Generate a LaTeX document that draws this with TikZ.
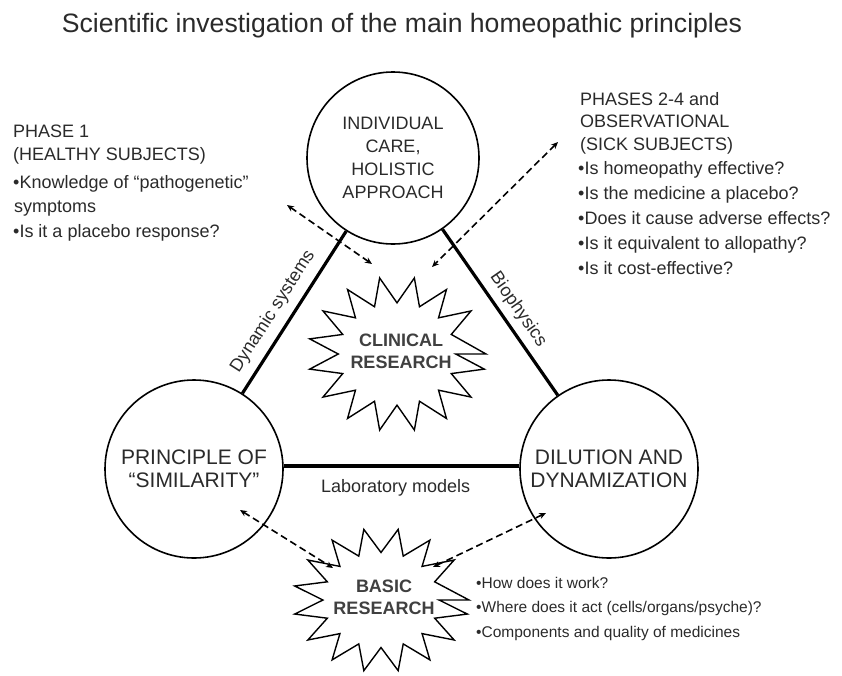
\documentclass[tikz,border=0pt]{standalone}
\usepackage{fontspec}
\setmainfont{Liberation Sans}
\usetikzlibrary{arrows.meta}
\definecolor{txt}{HTML}{2A2A2A}
\definecolor{boldtxt}{HTML}{404040}
\begin{document}
\begin{tikzpicture}[x=1pt,y=-1pt,
  bigcirc/.style={circle, draw=black, line width=1.6pt, inner sep=0pt, align=center, text=txt, font=\fontsize{18}{23}\selectfont},
  edge/.style={line width=3.2pt},
  lbl/.style={font=\fontsize{18}{20}\selectfont, text=txt},
  dasharrow/.style={line width=1.6pt, dash pattern=on 7pt off 4pt, {Stealth[length=7pt,width=6pt]}-{Stealth[length=7pt,width=6pt]}},
  burstline/.style={line width=1.4pt, fill=white},
  bursttext/.style={font=\bfseries\fontsize{18}{22}\selectfont, text=boldtxt, align=center},
  block/.style={anchor=north west, inner sep=0pt, align=left, text=txt}
]
\useasboundingbox (0,0) rectangle (842,675);

% title
\node[anchor=base, inner sep=0pt, text=txt, font=\fontsize{26.6}{30}\selectfont] (title) at (402,32) {Scientific investigation of the main homeopathic principles};

% circles
\node[bigcirc, minimum size=172pt] (top) at (393,158) {INDIVIDUAL\\CARE,\\HOLISTIC\\APPROACH};
\node[bigcirc, minimum size=178pt, font=\fontsize{21}{23}\selectfont] (left) at (194,469) {PRINCIPLE OF\\\char"201C SIMILARITY\char"201D};
\node[bigcirc, minimum size=178pt, font=\fontsize{21}{23}\selectfont] (right) at (609,469) {DILUTION AND\\DYNAMIZATION};

% triangle edges
\draw[edge] (top) -- node[sloped, above=5pt, pos=0.557, lbl] (dyn) {Dynamic systems} (left);
\draw[edge] (top) -- node[sloped, above=3pt, pos=0.54, lbl] (bio) {Biophysics} (right);
\draw[edge] ([yshift=3pt]left.east) -- node[below=9pt, pos=0.475, lbl] (lab) {Laboratory models} ([yshift=3pt]right.west);

% starbursts
\draw[burstline] (397+89,354) \foreach \k in {1,...,31} {
  -- ({397+89*(mod(\k,2)==0?1:0.66)*cos(\k*11.25+11.25)}, {354-77.5*(mod(\k,2)==0?1:0.66)*sin(\k*11.25+11.25)})} -- cycle;
\draw[burstline] (381+88,600) \foreach \k in {1,...,31} {
  -- ({381+88*(mod(\k,2)==0?1:0.66)*cos(\k*11.25+11.25)}, {600-72*(mod(\k,2)==0?1:0.66)*sin(\k*11.25+11.25)})} -- cycle;

\node[bursttext] (clin) at (401,351) {CLINICAL\\RESEARCH};
\node[bursttext] (basic) at (384,597) {BASIC\\RESEARCH};

% dashed double arrows
\coordinate (a1) at (287,205); \coordinate (a1e) at (372,264);
\coordinate (a2) at (558,142); \coordinate (a2e) at (432,267);
\coordinate (a3) at (240,510); \coordinate (a3e) at (333,568);
\coordinate (a4) at (546,513); \coordinate (a4e) at (433,567);
\draw[dasharrow] (a1) -- (a1e);
\draw[dasharrow] (a2) -- (a2e);
\draw[dasharrow] (a3) -- (a3e);
\draw[dasharrow] (a4) -- (a4e);

% text blocks
\node[block, font=\fontsize{18}{22.5}\selectfont] (p1h) at (13,125) {PHASE 1\\(HEALTHY SUBJECTS)};
\node[block, font=\fontsize{18}{24.5}\selectfont] (p1b) at (13,175) {•Knowledge of \char"201C pathogenetic\char"201D\\\hspace{1pt}symptoms\\•Is it a placebo response?};

\node[block, font=\fontsize{18}{22.5}\selectfont] (p2h) at (580,92) {PHASES 2-4 and\\OBSERVATIONAL\\(SICK SUBJECTS)};
\node[block, font=\fontsize{18}{25}\selectfont] (p2b) at (578,161) {•Is homeopathy effective?\\•Is the medicine a placebo?\\•Does it cause adverse effects?\\•Is it equivalent to allopathy?\\•Is it cost-effective?};

\node[block, font=\fontsize{15.5}{24.5}\selectfont] (br) at (476,577) {•How does it work?\\•Where does it act (cells/organs/psyche)?\\•Components and quality of medicines};
\end{tikzpicture}
\end{document}
